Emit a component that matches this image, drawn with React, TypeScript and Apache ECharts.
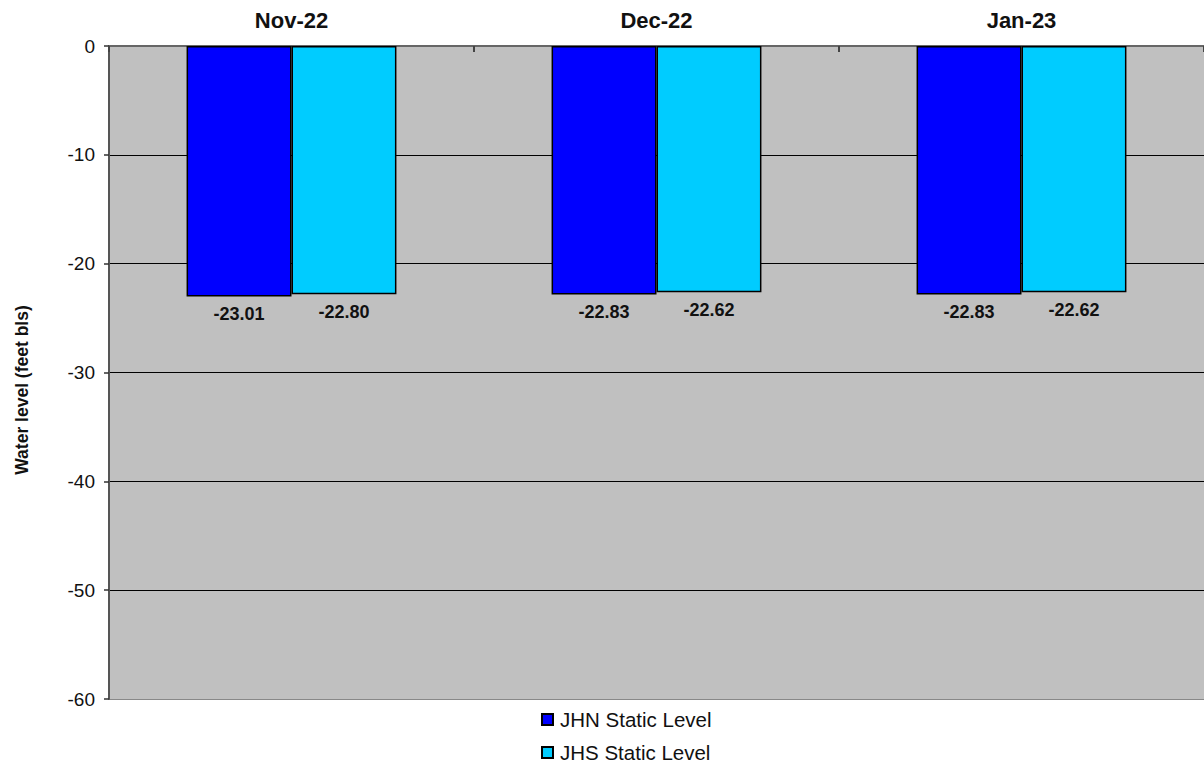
import React, { useEffect, useRef } from "react";
import * as echarts from "echarts";

const categories = ["Nov-22", "Dec-22", "Jan-23"];
const jhnValues = [-23.01, -22.83, -22.83];
const jhsValues = [-22.8, -22.62, -22.62];
const seriesNames = ["JHN Static Level", "JHS Static Level"];
const yTitle = "Water level (feet bls)";

export default function App() {
  const ref = useRef<HTMLDivElement>(null);
  useEffect(() => {
    if (!ref.current) return;
    const chart = echarts.init(ref.current, null, { renderer: "svg" });
    const font = "Liberation Sans, Arial, sans-serif";
    const label = {
      show: true,
      position: "bottom",
      distance: 9,
      fontFamily: font,
      fontWeight: "bold",
      fontSize: 18,
      color: "#111",
      formatter: (p: any) => p.value.toFixed(2),
    };
    chart.setOption({
      animation: false,
      backgroundColor: "#ffffff",
      textStyle: { fontFamily: font },
      grid: {
        left: 109,
        top: 46,
        width: 1104,
        height: 653,
        show: true,
        backgroundColor: "#C0C0C0",
        borderWidth: 0,
        containLabel: false,
      },
      legend: {
        orient: "vertical",
        left: 541,
        top: 709,
        padding: 0,
        itemGap: 12,
        itemWidth: 11,
        itemHeight: 11,
        icon: "rect",
        textStyle: { fontFamily: font, fontSize: 20.5, color: "#111", padding: [0, 0, 0, 2] },
        data: seriesNames,
      },
      xAxis: {
        type: "category",
        position: "top",
        data: categories,
        axisLine: { show: true, lineStyle: { color: "#666", width: 2 } },
        axisTick: { show: true, inside: true, length: 6, lineStyle: { color: "#444", width: 2 } },
        axisLabel: {
          fontFamily: font,
          fontWeight: "bold",
          fontSize: 22,
          color: "#111",
          margin: 15,
        },
        splitLine: { show: false },
      },
      yAxis: {
        type: "value",
        min: -60,
        max: 0,
        interval: 10,
        axisLine: { show: true, onZero: false, lineStyle: { color: "#555", width: 2 } },
        axisTick: { show: true, length: 5, lineStyle: { color: "#333", width: 1.5 } },
        axisLabel: {
          fontFamily: font,
          fontSize: 19,
          color: "#111",
          margin: 14,
        },
        splitLine: {
          show: true,
          lineStyle: {
            color: ["#888", "#000", "#000", "#000", "#000", "#000", "#666"],
            width: 1.2,
          },
        },
      },
      graphic: [
        {
          type: "text",
          x: 22,
          y: 390,
          rotation: Math.PI / 2,
          style: {
            text: yTitle,
            fontFamily: font,
            fontWeight: "bold",
            fontSize: 17.5,
            fill: "#111",
            align: "center",
            verticalAlign: "middle",
          },
        },
      ],
      series: [
        {
          name: seriesNames[0],
          type: "bar",
          data: jhnValues,
          barGap: "0%",
          barCategoryGap: "42.5%",
          itemStyle: { color: "#0000FF", borderColor: "#000", borderWidth: 1.5 },
          label,
        },
        {
          name: seriesNames[1],
          type: "bar",
          data: jhsValues,
          barGap: "0%",
          barCategoryGap: "42.5%",
          itemStyle: { color: "#00CCFF", borderColor: "#000", borderWidth: 1.5 },
          label,
        },
      ],
    });
    return () => chart.dispose();
  }, []);
  return (
    <div
      ref={ref}
      style={{ position: "fixed", left: 0, top: 0, width: 1204, height: 769 }}
    />
  );
}
